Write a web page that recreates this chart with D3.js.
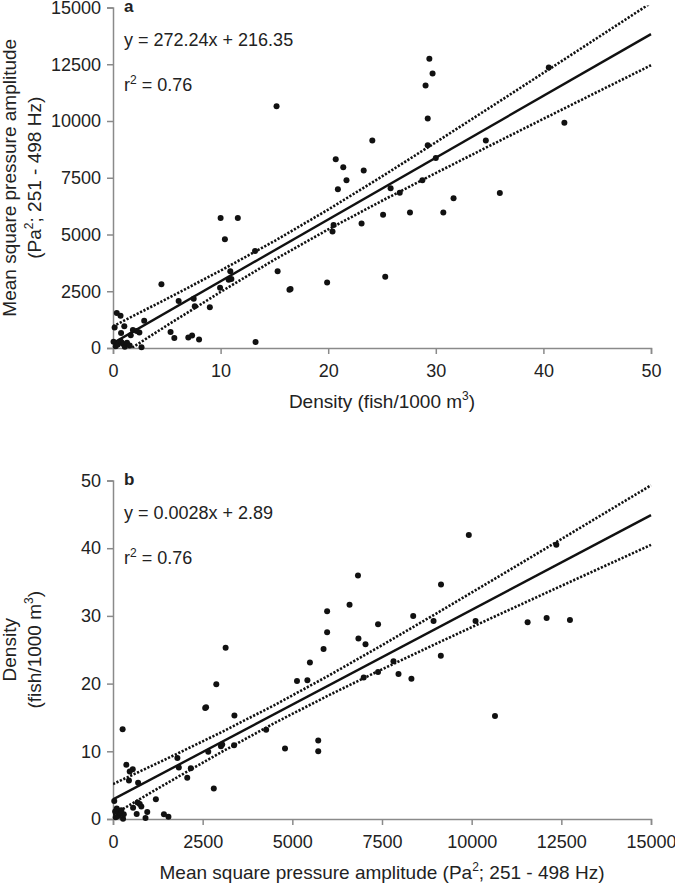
<!DOCTYPE html>
<html>
<head>
<meta charset="utf-8">
<script src="https://cdn.jsdelivr.net/npm/d3@7"></script>
<style>
  html, body { margin: 0; padding: 0; background: #fff; }
  svg { display: block; }
  text { font-family: "Liberation Sans", Arial, sans-serif; fill: #222; }
</style>
</head>
<body>
<svg id="chart" width="675" height="885"></svg>
<script>
// ---- data (density fish/1000 m^3, mean square pressure amplitude Pa^2) ----
const density = [
  15.2, 24.1, 20.7, 21.4, 23.3, 21.7, 20.9, 25.8, 25.1, 23.1, 20.5, 20.4, 25.3, 19.9,
  10.0, 11.6, 10.4, 13.2, 15.3, 10.9, 10.75, 11.0, 9.95, 16.4, 16.5, 4.5, 6.1, 7.5, 7.6, 9.0,
  5.35, 5.7, 7.0, 7.35, 8.0, 13.25, 0.35, 0.7, 0.15, 1.05, 0.75, 1.85, 1.65, 2.9, 2.45, 2.2, 2.65,
  0.05, 0.25, 0.45, 0.7, 0.8, 0.95, 1.1, 1.3, 1.55,
  29.4, 29.7, 29.05, 29.25, 29.25, 30.0, 28.75, 26.65, 27.6, 30.7, 31.65, 34.65, 35.95, 40.5, 41.95
];
const pressure = [
  10650, 9140, 8320, 7960, 7820, 7390, 6990, 7040, 5870, 5490, 5420, 5130, 3140, 2880,
  5722, 5722, 4796, 4270, 3385, 3376, 3010, 3045, 2655, 2570, 2595, 2810, 2070, 2170, 1835, 1795,
  700, 445, 466, 550, 372, 268, 1545, 1420, 907, 955, 660, 790, 560, 1195, 685, 745, 35,
  280, 75, 150, 300, 240, 180, 60, 230, 105,
  12740, 12090, 11560, 10108, 8937, 8370, 7390, 6843, 5970, 5970, 6595, 9145, 6830, 12360, 9920
];

// regression lines (as printed on the chart)
const fitA = { slope: 272.24, intercept: 216.35 };
const fitB = { slope: 0.0028, intercept: 2.89 };

// confidence bands
const bandAx = [0, 5, 10, 15, 20, 25, 30, 35, 40, 45, 50];
const bandAupper = [956, 2167, 3409, 4711, 6098, 7558, 9061, 10584, 12117, 13657, 15201];
const bandAlower = [-524, 989, 2469, 3889, 5224, 6486, 7707, 8906, 10095, 11277, 12455];
const bandBx = [0, 1500, 3000, 4500, 6000, 7500, 9000, 10500, 12000, 13500, 15000];
const bandBupper = [5.16, 8.90, 12.76, 16.82, 21.14, 25.67, 30.31, 35.02, 39.76, 44.52, 49.29];
const bandBlower = [0.62, 5.28, 9.82, 14.16, 18.24, 22.11, 25.87, 29.56, 33.22, 36.86, 40.49];

// ticks
const densityTicks = [0, 10, 20, 30, 40, 50];
const pressureTicks = [0, 2500, 5000, 7500, 10000, 12500, 15000];

const svg = d3.select("#chart");
const AX = "#8a8a8a";

function panel(opt) {
  const g = svg.append("g");
  const x = d3.scaleLinear().domain(opt.xDomain).range([113, 651]);
  const y = d3.scaleLinear().domain(opt.yDomain).range(opt.yRange);

  const clipId = "clip" + opt.id;
  g.append("clipPath").attr("id", clipId).append("rect")
    .attr("x", 113).attr("y", opt.yRange[1] - 2)
    .attr("width", 540).attr("height", opt.yRange[0] - opt.yRange[1] + 2);

  // axes
  const xa = g.append("g").attr("transform", `translate(0,${opt.yRange[0]})`)
    .call(d3.axisBottom(x).tickValues(opt.xTicks).tickSize(6).tickPadding(10).tickFormat(d3.format("d")));
  const ya = g.append("g").attr("transform", `translate(113,0)`)
    .call(d3.axisLeft(y).tickValues(opt.yTicks).tickSize(6).tickPadding(6).tickFormat(d3.format("d")));
  [xa, ya].forEach(a => {
    a.select(".domain").attr("stroke", AX).attr("stroke-width", 1.5);
    a.selectAll(".tick line").attr("stroke", AX).attr("stroke-width", 1.5);
    a.selectAll(".tick text").attr("font-size", 18).attr("fill", "#222")
      .attr("font-family", '"Liberation Sans", Arial, sans-serif');
  });

  const plot = g.append("g").attr("clip-path", `url(#${clipId})`);
  const line = d3.line().x(d => x(d[0])).y(d => y(d[1]));

  // bands
  [opt.bandUpper, opt.bandLower].forEach(arr => {
    plot.append("path")
      .datum(opt.bandX.map((v, i) => [v, arr[i]]))
      .attr("d", line)
      .attr("fill", "none").attr("stroke", "#111")
      .attr("stroke-width", 2.6).attr("stroke-dasharray", "2.2 1.6");
  });
  // regression
  plot.append("path")
    .datum(opt.xDomain.map(v => [v, opt.fit.intercept + opt.fit.slope * v]))
    .attr("d", line)
    .attr("fill", "none").attr("stroke", "#111").attr("stroke-width", 2.4);

  // points
  g.append("g").selectAll("circle").data(opt.xs.map((v, i) => [v, opt.ys[i]]))
    .join("circle")
    .attr("cx", d => x(d[0])).attr("cy", d => y(d[1])).attr("r", 3).attr("fill", "#111");

  // panel letter
  g.append("text").attr("x", 124).attr("y", opt.yRange[1] + opt.letterDy)
    .attr("font-size", 17).attr("font-weight", "bold").text(opt.letter);

  // equation and r2
  g.append("text").attr("x", 124).attr("y", opt.yRange[1] + 38)
    .attr("font-size", 18).text(opt.eq);
  const r2 = g.append("text").attr("x", 124).attr("y", opt.yRange[1] + 83).attr("font-size", 18);
  r2.append("tspan").text("r");
  r2.append("tspan").attr("font-size", 12).attr("dy", -7).text("2");
  r2.append("tspan").attr("dy", 7).text(" = 0.76");

  // x title
  const xt = g.append("text").attr("x", 382).attr("y", opt.yRange[0] + 60)
    .attr("text-anchor", "middle").attr("font-size", 19);
  opt.xTitle(xt);

  // y title
  const cy = (opt.yRange[0] + opt.yRange[1]) / 2;
  const yt1 = g.append("text").attr("transform", `translate(16,${cy}) rotate(-90)`)
    .attr("text-anchor", "middle").attr("font-size", 19);
  const yt2 = g.append("text").attr("transform", `translate(41,${cy}) rotate(-90)`)
    .attr("text-anchor", "middle").attr("font-size", 19);
  opt.yTitle(yt1, yt2);
}

panel({
  id: "a", letter: "a", letterDy: 4,
  xDomain: [0, 50], yDomain: [0, 15000], yRange: [348, 7.5],
  xTicks: densityTicks, yTicks: pressureTicks,
  xs: density, ys: pressure, fit: fitA,
  bandX: bandAx, bandUpper: bandAupper, bandLower: bandAlower,
  eq: "y = 272.24x + 216.35",
  xTitle: t => {
    t.append("tspan").text("Density (fish/1000 m");
    t.append("tspan").attr("font-size", 12).attr("dy", -8).text("3");
    t.append("tspan").attr("dy", 8).text(")");
  },
  yTitle: (t1, t2) => {
    t1.text("Mean square pressure amplitude");
    t2.append("tspan").text("(Pa");
    t2.append("tspan").attr("font-size", 12).attr("dy", -8).text("2");
    t2.append("tspan").attr("dy", 8).text("; 251 - 498 Hz)");
  }
});

panel({
  id: "b", letter: "b", letterDy: 4,
  xDomain: [0, 15000], yDomain: [0, 50], yRange: [819, 480.5],
  xTicks: pressureTicks, yTicks: densityTicks,
  xs: pressure, ys: density, fit: fitB,
  bandX: bandBx, bandUpper: bandBupper, bandLower: bandBlower,
  eq: "y = 0.0028x + 2.89",
  xTitle: t => {
    t.append("tspan").text("Mean square pressure amplitude (Pa");
    t.append("tspan").attr("font-size", 12).attr("dy", -8).text("2");
    t.append("tspan").attr("dy", 8).text("; 251 - 498 Hz)");
  },
  yTitle: (t1, t2) => {
    t1.text("Density");
    t2.append("tspan").text("(fish/1000 m");
    t2.append("tspan").attr("font-size", 12).attr("dy", -8).text("3");
    t2.append("tspan").attr("dy", 8).text(")");
  }
});
</script>
</body>
</html>
